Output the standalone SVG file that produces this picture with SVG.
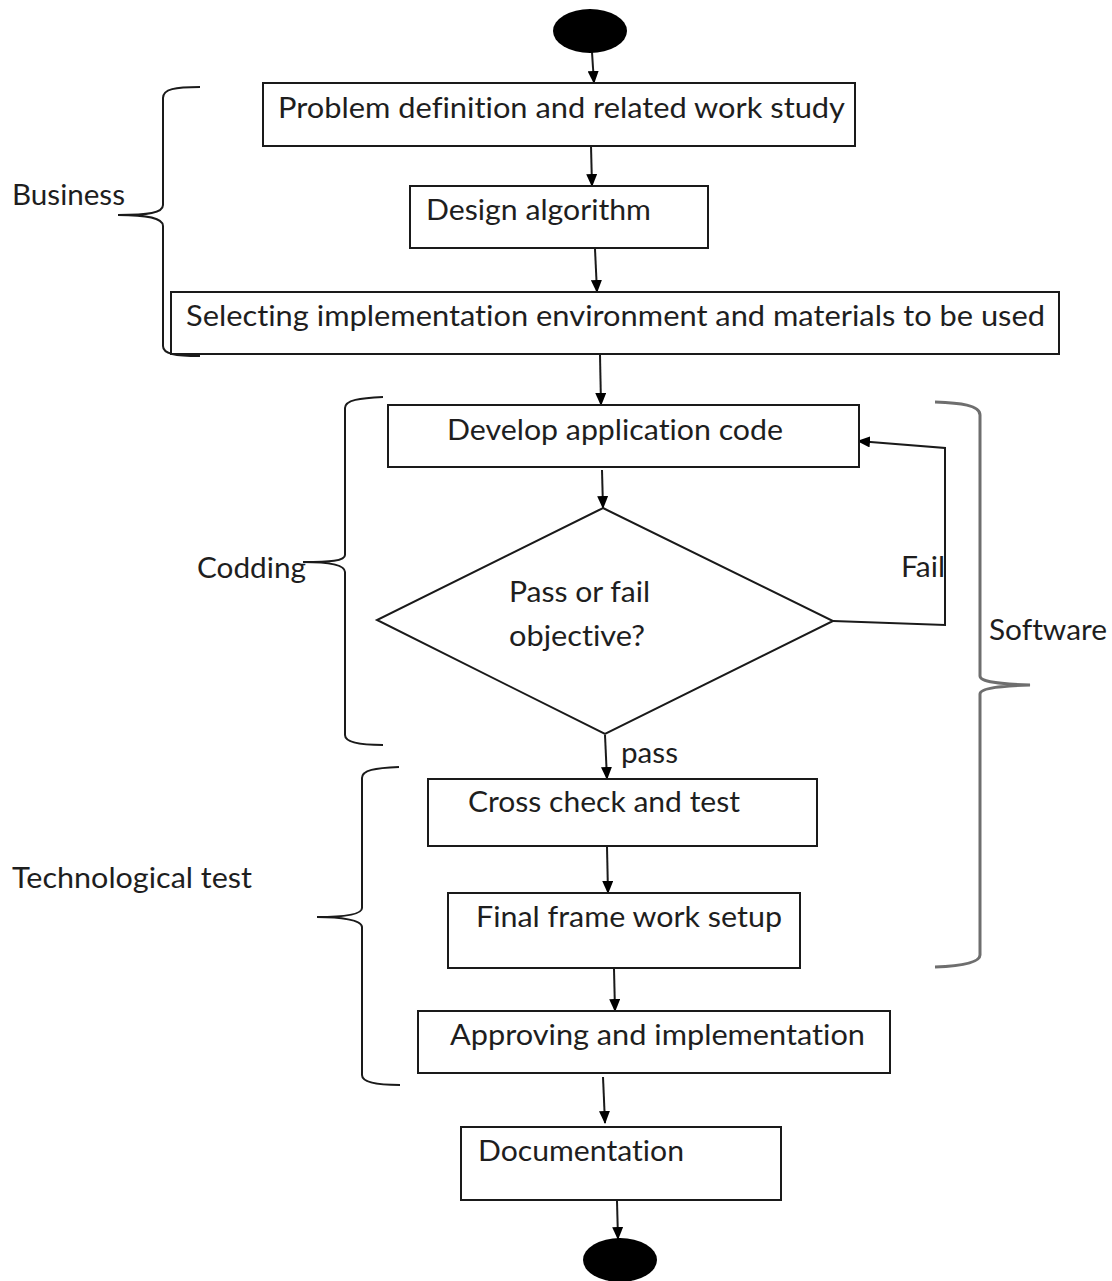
<svg xmlns="http://www.w3.org/2000/svg" width="1112" height="1281" viewBox="0 0 1112 1281">
  <style>
    .box { fill: #ffffff; stroke: #1a1a1a; stroke-width: 2; }
    .lbl { font-family: Lato, "Open Sans", "Liberation Sans", sans-serif; font-size: 29px; fill: #1e1e1e; font-variant-ligatures: none; }
    .edge { fill: none; stroke: #1a1a1a; stroke-width: 2; }
    .brace { fill: none; stroke: #1a1a1a; stroke-width: 2; }
    .brace-grey { fill: none; stroke: #6e6e6e; stroke-width: 3; }
    .term { fill: #000000; }
  </style>
  <defs>
    <marker id="arrow" markerUnits="userSpaceOnUse" markerWidth="13" markerHeight="11" refX="12" refY="5.5" orient="auto">
      <path d="M0,0 L13,5.5 L0,11 z" fill="#000000"/>
    </marker>
  </defs>
  <rect width="1112" height="1281" fill="#ffffff"/>

  <!-- group brackets and their captions -->
  <g id="group-business">
    <path class="brace" d="M200,87 C175,87 163,89 163,98 L163,205 C163,213 148,215 118,215 C148,215 163,218 163,226 L163,346 C163,354 175,356 200,356"/>
    <text class="lbl" x="12" y="205" textLength="113" lengthAdjust="spacingAndGlyphs">Business</text>
  </g>
  <g id="group-coding">
    <path class="brace" d="M383,397 C360,398 345,400 345,408 L345,555 C345,561 330,562 303,562 C330,562 345,565 345,572 L345,735 C345,742 360,745 383,745"/>
    <text class="lbl" x="197" y="578" textLength="109" lengthAdjust="spacingAndGlyphs">Codding</text>
  </g>
  <g id="group-tech-test">
    <path class="brace" d="M399,767 C375,768 362,770 362,778 L362,908 C362,915 340,917 317,917 C340,917 362,920 362,927 L362,1075 C362,1082 375,1085 400,1085"/>
    <text class="lbl" x="12" y="888" textLength="240" lengthAdjust="spacingAndGlyphs">Technological test</text>
  </g>
  <g id="group-software">
    <path class="brace-grey" d="M935,402 C960,403 980,405 980,415 L980,676 C980,682 1000,684 1030,685 C1000,686 980,688 980,694 L980,955 C980,963 960,966 935,967"/>
    <text class="lbl" x="989" y="640" textLength="118" lengthAdjust="spacingAndGlyphs">Software</text>
  </g>

  <!-- connectors -->
  <g id="connectors">
    <line class="edge" x1="592" y1="52" x2="594" y2="83" marker-end="url(#arrow)"/>
    <line class="edge" x1="591" y1="146" x2="592" y2="186" marker-end="url(#arrow)"/>
    <line class="edge" x1="595" y1="249" x2="597" y2="292" marker-end="url(#arrow)"/>
    <line class="edge" x1="600" y1="355" x2="601" y2="405" marker-end="url(#arrow)"/>
    <line class="edge" x1="602" y1="470" x2="603" y2="508" marker-end="url(#arrow)"/>
    <line class="edge" x1="605" y1="735" x2="607" y2="779" marker-end="url(#arrow)"/>
    <line class="edge" x1="607" y1="847" x2="608" y2="893" marker-end="url(#arrow)"/>
    <line class="edge" x1="614" y1="969" x2="615" y2="1011" marker-end="url(#arrow)"/>
    <line class="edge" x1="603" y1="1077" x2="605" y2="1123" marker-end="url(#arrow)"/>
    <line class="edge" x1="617" y1="1201" x2="618" y2="1239" marker-end="url(#arrow)"/>
    <polyline class="edge" points="833,621 945,625 945,448 858,441" marker-end="url(#arrow)"/>
    <text class="lbl" x="621" y="763" textLength="57" lengthAdjust="spacingAndGlyphs">pass</text>
    <text class="lbl" x="901" y="577" textLength="44" lengthAdjust="spacingAndGlyphs">Fail</text>
  </g>

  <!-- nodes -->
  <g id="start">
    <ellipse class="term" cx="590" cy="31" rx="37" ry="22"/>
  </g>
  <g id="problem-definition">
    <rect class="box" x="263" y="83" width="592" height="63"/>
    <text class="lbl" x="278" y="118" textLength="567" lengthAdjust="spacingAndGlyphs">Problem definition and related work study</text>
  </g>
  <g id="design-algorithm">
    <rect class="box" x="410" y="186" width="298" height="62"/>
    <text class="lbl" x="426" y="220" textLength="225" lengthAdjust="spacingAndGlyphs">Design algorithm</text>
  </g>
  <g id="select-environment">
    <rect class="box" x="171" y="292" width="888" height="62"/>
    <text class="lbl" x="186" y="326" textLength="859" lengthAdjust="spacingAndGlyphs">Selecting implementation environment and materials to be used</text>
  </g>
  <g id="develop-code">
    <rect class="box" x="388" y="405" width="471" height="62"/>
    <text class="lbl" x="447" y="440" textLength="336" lengthAdjust="spacingAndGlyphs">Develop application code</text>
  </g>
  <g id="decision">
    <polygon class="box" points="603,508 833,621 605,734 377,620"/>
    <text class="lbl" x="509" y="602" textLength="141" lengthAdjust="spacingAndGlyphs">Pass or fail</text>
    <text class="lbl" x="509" y="646" textLength="136" lengthAdjust="spacingAndGlyphs">objective?</text>
  </g>
  <g id="cross-check">
    <rect class="box" x="428" y="779" width="389" height="67"/>
    <text class="lbl" x="468" y="812" textLength="272" lengthAdjust="spacingAndGlyphs">Cross check and test</text>
  </g>
  <g id="framework-setup">
    <rect class="box" x="448" y="893" width="352" height="75"/>
    <text class="lbl" x="476" y="927" textLength="306" lengthAdjust="spacingAndGlyphs">Final frame work setup</text>
  </g>
  <g id="approving">
    <rect class="box" x="418" y="1011" width="472" height="62"/>
    <text class="lbl" x="450" y="1045" textLength="415" lengthAdjust="spacingAndGlyphs">Approving and implementation</text>
  </g>
  <g id="documentation">
    <rect class="box" x="461" y="1127" width="320" height="73"/>
    <text class="lbl" x="478" y="1161" textLength="206" lengthAdjust="spacingAndGlyphs">Documentation</text>
  </g>
  <g id="end">
    <ellipse class="term" cx="620" cy="1260" rx="37" ry="22"/>
  </g>
</svg>
